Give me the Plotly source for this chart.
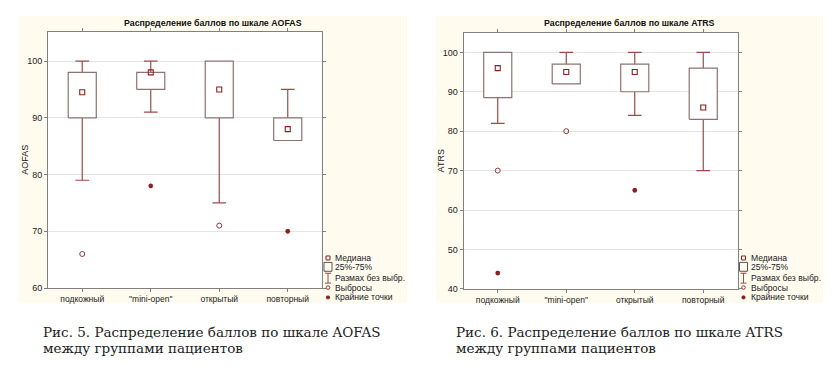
import plotly.graph_objects as go

W, H = 832, 369

# ---------------- data ----------------
categories = ["подкожный", "\"mini-open\"", "открытый", "повторный"]

aofas_q1 = [90, 95, 90, 86]
aofas_median = [94.5, 98, 95, 88]
aofas_q3 = [98, 98, 100, 90]
aofas_low = [79, 91, 75, 86]
aofas_high = [100, 100, 100, 95]
aofas_outlier_cat = ["подкожный", "открытый"]
aofas_outlier_val = [66, 71]
aofas_extreme_cat = ["\"mini-open\"", "повторный"]
aofas_extreme_val = [78, 70]

atrs_q1 = [88.5, 92, 90, 83]
atrs_median = [96, 95, 95, 86]
atrs_q3 = [100, 97, 97, 96]
atrs_low = [82, 92, 84, 70]
atrs_high = [100, 100, 100, 100]
atrs_outlier_cat = ["подкожный", "\"mini-open\""]
atrs_outlier_val = [70, 80]
atrs_extreme_cat = ["подкожный", "открытый"]
atrs_extreme_val = [44, 65]

aofas_ticks = [60, 70, 80, 90, 100]
atrs_ticks = [40, 50, 60, 70, 80, 90, 100]

legend_labels = ["Медиана", "25%-75%", "Размах без выбр.", "Выбросы", "Крайние точки"]

titles = ["Распределение баллов по шкале AOFAS", "Распределение баллов по шкале ATRS"]
ytitles = ["AOFAS", "ATRS"]
captions = [["Рис. 5. Распределение баллов по шкале AOFAS", "между группами пациентов"],
            ["Рис. 6. Распределение баллов по шкале ATRS", "между группами пациентов"]]

# ---------------- style ----------------
BOX_C = "#8c7272"
WHISK_C = "#9c4a4a"
MED_C = "#8b1f1f"
OUT_C = "#8b3a3a"
PANEL_C = "#fffbef"
BORDER_C = "#808080"
GRID_C = "#e4e4e4"
SANS = "Liberation Sans, Arial, sans-serif"
SERIF = "DejaVu Serif, serif"
BOX_HW = 0.205
CAP_HW = 0.1

# pixel layout
plots = [
    dict(x0=48, x1=322, y0=32, y1=292, panel=(19, 407, 16, 307), yr=[60, 105.2], ticks=aofas_ticks,
         q1=aofas_q1, med=aofas_median, q3=aofas_q3, lo=aofas_low, hi=aofas_high,
         oc=aofas_outlier_cat, ov=aofas_outlier_val, ec=aofas_extreme_cat, ev=aofas_extreme_val,
         cap_x=43),
    dict(x0=463.5, x1=737.5, y0=33.5, y1=292.8, panel=(436, 823, 16, 307), yr=[40, 104.9], ticks=atrs_ticks,
         q1=atrs_q1, med=atrs_median, q3=atrs_q3, lo=atrs_low, hi=atrs_high,
         oc=atrs_outlier_cat, ov=atrs_outlier_val, ec=atrs_extreme_cat, ev=atrs_extreme_val,
         cap_x=456),
]


def px(x):
    return x / W


def py(y):
    return 1 - y / H


fig = go.Figure()
shapes = []
annotations = []
pos = list(range(len(categories)))

for k, p in enumerate(plots):
    xa = "x" if k == 0 else "x2"
    ya = "y" if k == 0 else "y2"

    # whiskers (lines + caps) built from data
    wx, wy = [], []
    for i in pos:
        if p["hi"][i] > p["q3"][i]:
            wx += [i, i, None, i - CAP_HW, i + CAP_HW, None]
            wy += [p["q3"][i], p["hi"][i], None, p["hi"][i], p["hi"][i], None]
        if p["lo"][i] < p["q1"][i]:
            wx += [i, i, None, i - CAP_HW, i + CAP_HW, None]
            wy += [p["q1"][i], p["lo"][i], None, p["lo"][i], p["lo"][i], None]
    fig.add_trace(go.Scatter(x=wx, y=wy, mode="lines", line=dict(color=WHISK_C, width=1.2),
                             xaxis=xa, yaxis=ya, showlegend=False, hoverinfo="skip"))

    # boxes
    bx, by = [], []
    for i in pos:
        bx += [i - BOX_HW, i + BOX_HW, i + BOX_HW, i - BOX_HW, i - BOX_HW, None]
        by += [p["q1"][i], p["q1"][i], p["q3"][i], p["q3"][i], p["q1"][i], None]
    fig.add_trace(go.Scatter(x=bx, y=by, mode="lines", fill="toself", fillcolor="white",
                             line=dict(color=BOX_C, width=1.2),
                             xaxis=xa, yaxis=ya, showlegend=False, hoverinfo="skip"))

    # medians
    fig.add_trace(go.Scatter(x=pos, y=p["med"], mode="markers",
                             marker=dict(symbol="square-open", size=5, color=MED_C, line=dict(width=1.1)),
                             xaxis=xa, yaxis=ya, showlegend=False))
    # outliers
    fig.add_trace(go.Scatter(x=[categories.index(c) for c in p["oc"]], y=p["ov"], mode="markers",
                             marker=dict(symbol="circle-open", size=5, color=OUT_C, line=dict(width=1)),
                             xaxis=xa, yaxis=ya, showlegend=False))
    # extremes
    fig.add_trace(go.Scatter(x=[categories.index(c) for c in p["ec"]], y=p["ev"], mode="markers",
                             marker=dict(symbol="asterisk-open", size=4, color=MED_C, line=dict(width=1.4)),
                             xaxis=xa, yaxis=ya, showlegend=False))

    axis_common = dict(showline=True, linecolor=BORDER_C, linewidth=1, mirror="ticks",
                       ticks="outside", ticklen=3, tickcolor=BORDER_C, zeroline=False)
    xd = dict(domain=[px(p["x0"]), px(p["x1"])], range=[-0.5, 3.5], tickvals=pos, ticktext=categories,
              showgrid=False, tickfont=dict(family=SANS, size=8.5, color="#222"), anchor=ya, **axis_common)
    yd = dict(domain=[py(p["y1"]), py(p["y0"])], range=p["yr"], tickvals=p["ticks"],
              showgrid=True, gridcolor=GRID_C, gridwidth=1,
              tickfont=dict(family=SANS, size=9, color="#222"), anchor=xa,
              **axis_common)
    if k == 0:
        fig.update_layout(xaxis=xd, yaxis=yd)
    else:
        fig.update_layout(xaxis2=xd, yaxis2=yd)

    # panel background
    l, r, t, b = p["panel"]
    shapes.append(dict(type="rect", xref="paper", yref="paper", x0=px(l), x1=px(r), y0=py(b), y1=py(t),
                       fillcolor=PANEL_C, line=dict(width=0), layer="below"))
    shapes.append(dict(type="rect", xref="paper", yref="paper", x0=px(p["x0"]), x1=px(p["x1"]),
                       y0=py(p["y1"]), y1=py(p["y0"]),
                       fillcolor="white", line=dict(width=0), layer="below"))

    # title
    annotations.append(dict(text="<b>%s</b>" % titles[k], x=px((l + r) / 2), y=py(23), xref="paper",
                            yref="paper", showarrow=False, xanchor="center", yanchor="middle",
                            font=dict(family=SANS, size=8.8, color="#111")))
    # y-axis title
    annotations.append(dict(text=ytitles[k], x=px(p["x0"] - 23), y=py((p["y0"] + p["y1"]) / 2),
                            xref="paper", yref="paper", showarrow=False, textangle=-90,
                            xanchor="center", yanchor="middle",
                            font=dict(family=SANS, size=9, color="#222")))

    # legend
    sx = p["x1"] + 6
    tx = p["x1"] + 11
    ly = [261.5, 270.5, 282, 291.5, 301.5]
    shapes.append(dict(type="rect", xref="paper", yref="paper", x0=px(sx - 2), x1=px(sx + 2),
                       y0=py(ly[0] + 2), y1=py(ly[0] - 2), line=dict(color=MED_C, width=1)))
    shapes.append(dict(type="rect", xref="paper", yref="paper", x0=px(sx - 4), x1=px(sx + 4),
                       y0=py(ly[1] + 4.5), y1=py(ly[1] - 4.5), line=dict(color="#555", width=1)))
    shapes.append(dict(type="line", xref="paper", yref="paper", x0=px(sx), x1=px(sx),
                       y0=py(ly[2] + 5), y1=py(ly[2] - 5), line=dict(color=WHISK_C, width=1)))
    for dy in (-5, 5):
        shapes.append(dict(type="line", xref="paper", yref="paper", x0=px(sx - 3), x1=px(sx + 3),
                           y0=py(ly[2] + dy), y1=py(ly[2] + dy), line=dict(color=WHISK_C, width=1)))
    shapes.append(dict(type="circle", xref="paper", yref="paper", x0=px(sx - 1.8), x1=px(sx + 1.8),
                       y0=py(ly[3] + 1.8), y1=py(ly[3] - 1.8), line=dict(color=OUT_C, width=1)))
    for (dx0, dy0, dx1, dy1) in [(-2, 0, 2, 0), (0, -2, 0, 2), (-1.5, -1.5, 1.5, 1.5), (-1.5, 1.5, 1.5, -1.5)]:
        shapes.append(dict(type="line", xref="paper", yref="paper", x0=px(sx + dx0), x1=px(sx + dx1),
                           y0=py(ly[4] + dy0), y1=py(ly[4] + dy1), line=dict(color=MED_C, width=1.2)))
    for lab, yy in zip(legend_labels, ly):
        annotations.append(dict(text=lab, x=px(tx), y=py(yy), xref="paper", yref="paper", showarrow=False,
                                xanchor="left", yanchor="middle",
                                font=dict(family=SANS, size=8.6, color="#222")))

    # caption
    for j, line in enumerate(captions[k]):
        annotations.append(dict(text=line, x=px(p["cap_x"] - 2), y=py(337 + 15.5 * j), xref="paper",
                                yref="paper", showarrow=False, xanchor="left", yanchor="middle",
                                font=dict(family=SERIF, size=13.5, color="#222")))

fig.update_layout(width=W, height=H, margin=dict(l=0, r=0, t=0, b=0), paper_bgcolor="white",
                  plot_bgcolor="rgba(0,0,0,0)", shapes=shapes, annotations=annotations, showlegend=False)

fig.write_html("out.html", config={"displayModeBar": False},
               post_script="document.body.style.margin='0';document.body.style.overflow='hidden';")
